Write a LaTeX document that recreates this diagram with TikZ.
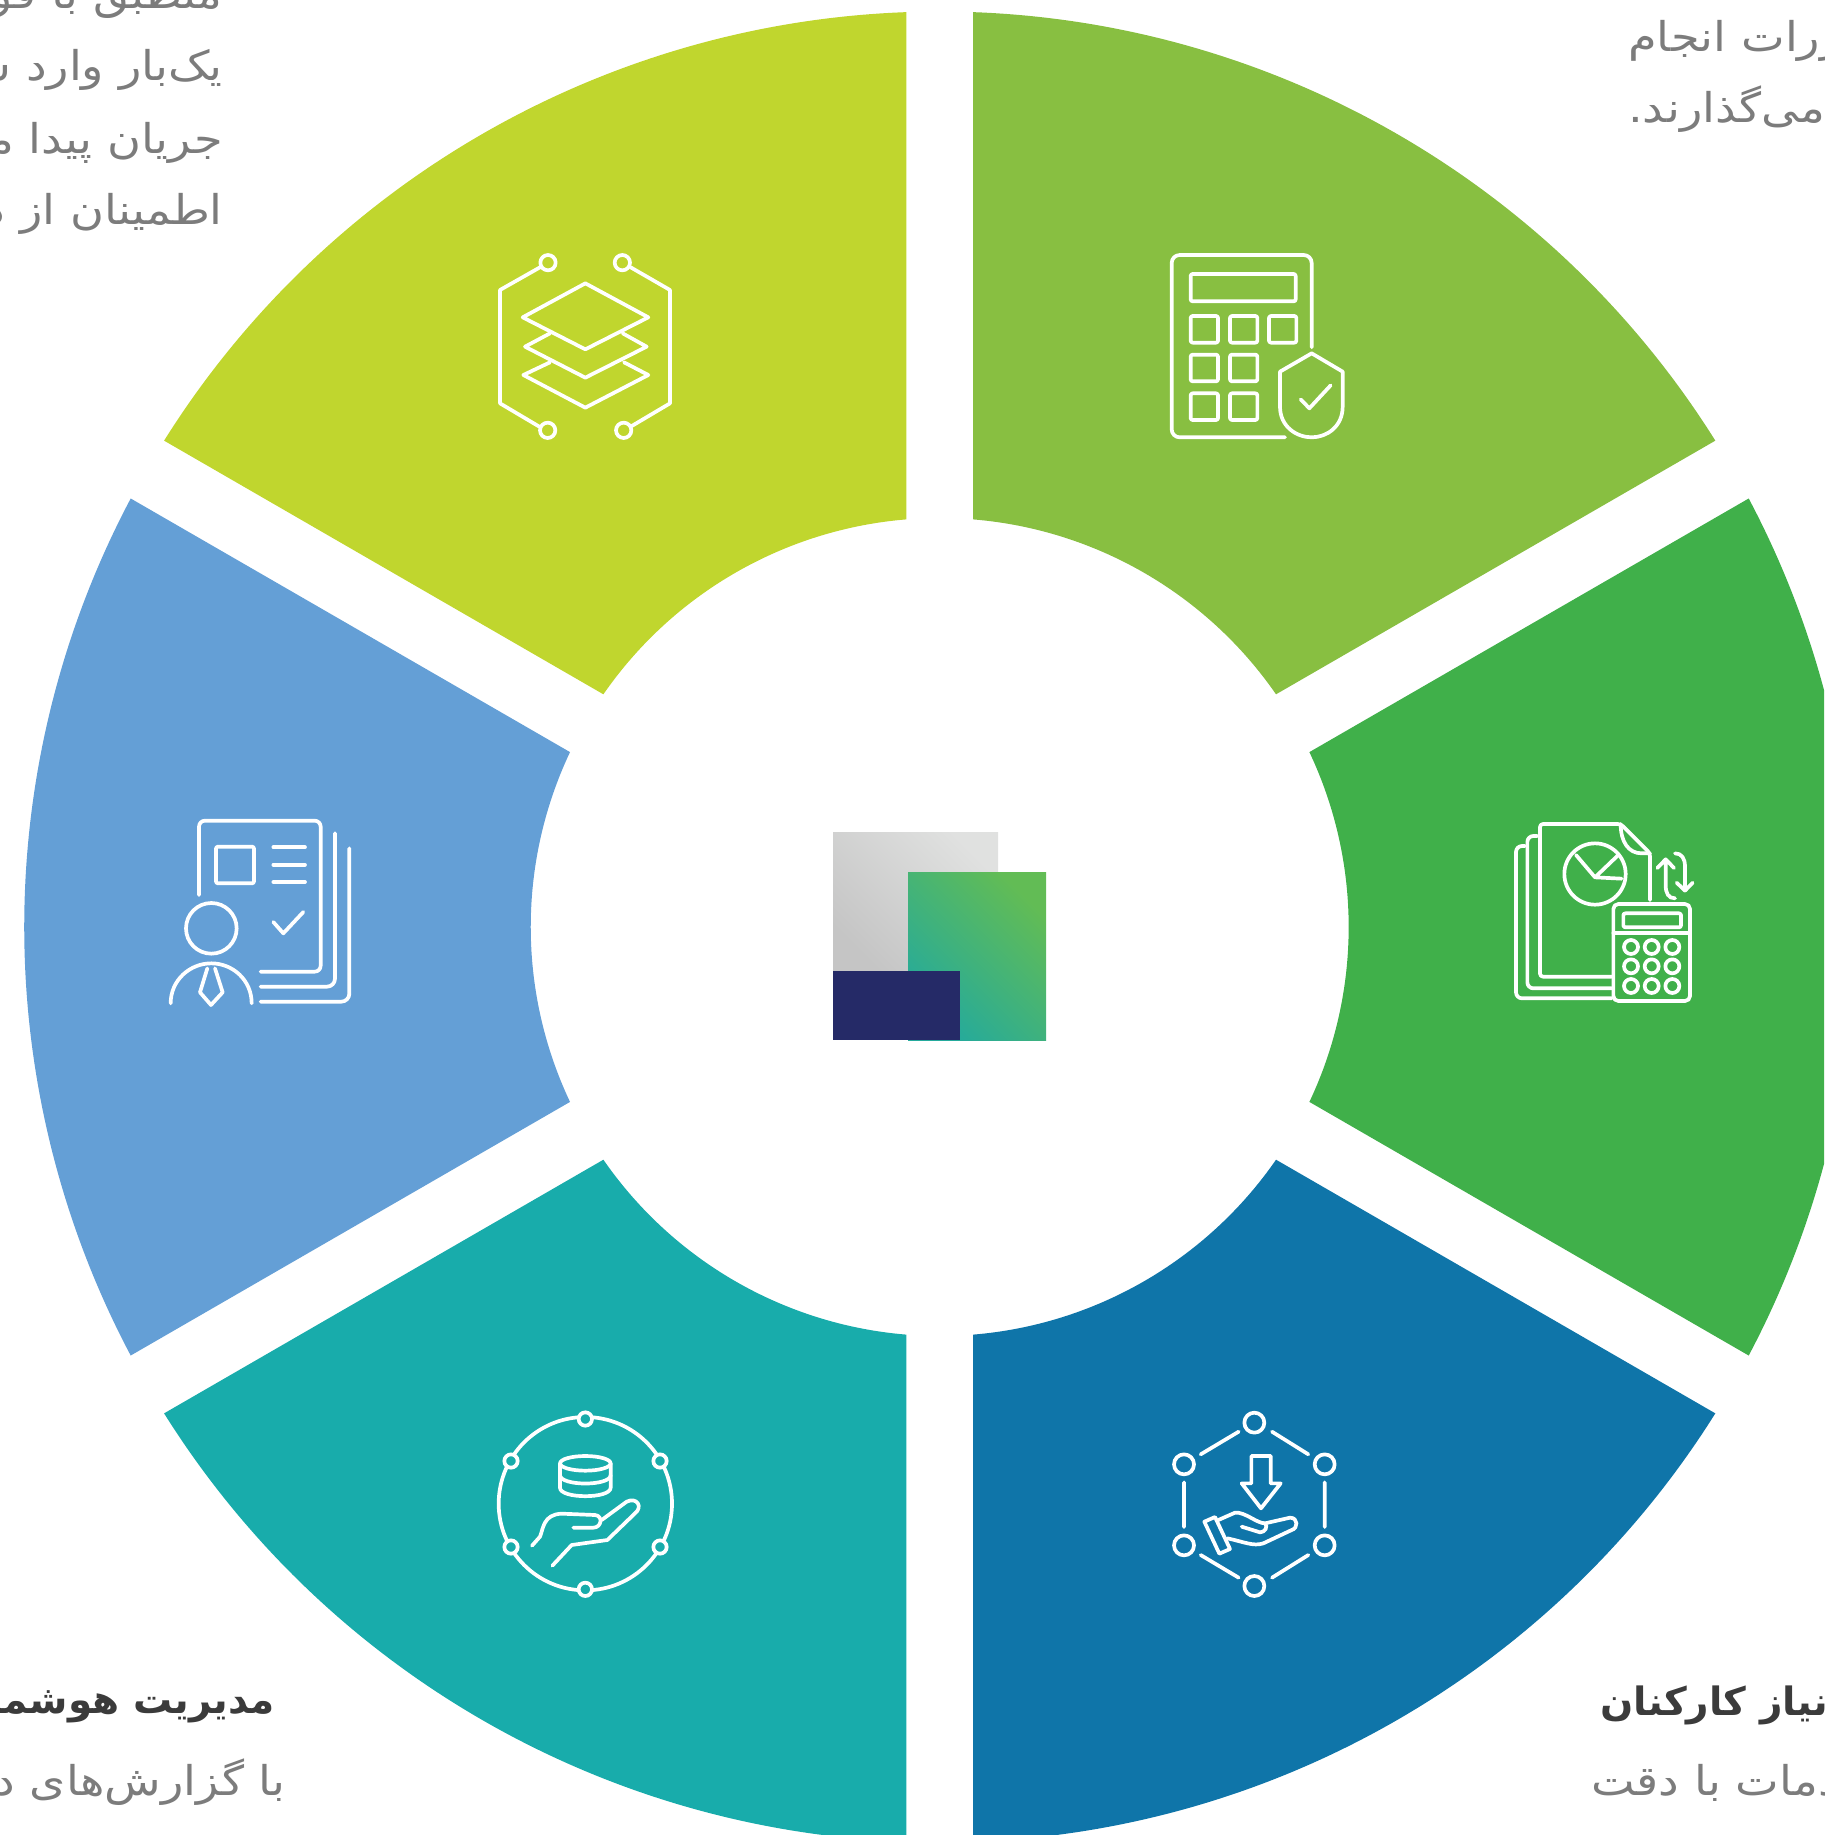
\documentclass[tikz,border=0pt]{standalone}
\usepackage{fontspec}
\TeXXeTstate=1
\newfontfamily\fafont[Script=Arabic,FakeStretch=1.13]{DejaVu Sans}
\newfontfamily\fabold[Script=Arabic]{DejaVu Sans Bold}
\definecolor{sTR}{HTML}{88BF41}
\definecolor{sR}{HTML}{40B04A}
\definecolor{sBR}{HTML}{0F75A9}
\definecolor{sBL}{HTML}{18ACAB}
\definecolor{sL}{HTML}{649FD6}
\definecolor{sTL}{HTML}{C0D62E}
\definecolor{txtbody}{HTML}{7C7C7C}
\definecolor{txthead}{HTML}{3B3B3B}
\definecolor{logoNavy}{HTML}{252A67}
\definecolor{gA}{HTML}{62BC55}
\definecolor{gB}{HTML}{3FB27B}
\definecolor{gC}{HTML}{24AA9C}
\definecolor{yA}{HTML}{E0E1E0}
\definecolor{yB}{HTML}{D2D3D2}
\definecolor{yC}{HTML}{C5C5C5}
\tikzset{
  body/.style={text=txtbody,inner sep=0pt,font=\fontsize{41}{41}\selectfont\fafont},
  head/.style={text=txthead,inner sep=0pt,font=\fontsize{39}{39}\selectfont\fabold},
  ico/.style={draw=white,line width=3.7pt,line join=round,line cap=round,fill=none},
  iconscope/.style={x=0.33333pt,y=-0.33333pt}
}
\newcommand{\sector}[2]{%
  \fill[#2] (#1-27.91:915.5pt) arc[start angle=#1-27.91,end angle=#1+27.91,radius=915.5pt]
    -- (#1+25.32:409pt) arc[start angle=#1+25.32,end angle=#1-25.32,radius=409pt] -- cycle;}
\begin{document}
\begin{tikzpicture}[x=1pt,y=1pt]
\useasboundingbox (0,0) rectangle (1824,-1835);
\clip (0,0) rectangle (1824,-1835);
\begin{scope}[shift={(939.7pt,-927pt)}]
  \sector{60}{sTR}
  \sector{0}{sR}
  \sector{-60}{sBR}
  \sector{-120}{sBL}
  \sector{180}{sL}
  \sector{120}{sTL}
\end{scope}
% logo
\shade[top color=yA,middle color=yB,bottom color=yC,shading angle=-45] (833,-832) rectangle (998,-971);
\shade[top color=gA,middle color=gB,bottom color=gC,shading angle=-45] (908,-872) rectangle (1046,-1040);
\fill[logoNavy] (833,-971) rectangle (960,-1040);
% texts
\node[body,anchor=base east] (t1) at (223,-9) {\beginR منطبق با قوانین\endR};
\node[body,anchor=base east] (t2) at (223,-81) {\beginR یک‌بار وارد سیستم\endR};
\node[body,anchor=base east] (t3) at (223,-154) {\beginR جریان پیدا می‌کند\endR};
\node[body,anchor=base east] (t4) at (223,-225) {\beginR اطمینان از درستی\endR};
\node[body,anchor=base west] (t5) at (1628,-52) {\beginR مقررات انجام\endR};
\node[body,anchor=base west] (t6) at (1628,-123) {\beginR می‌گذارند.\endR};
\node[head,anchor=base east] (t7) at (275,-1713) {\beginR مدیریت هوشمند\endR};
\node[body,anchor=base east] (t8) at (286,-1795) {\beginR با گزارش‌های دقیق\endR};
\node[head,anchor=base west] (t9) at (1600,-1715) {\beginR نیاز کارکنان\endR};
\node[body,anchor=base west] (t10) at (1591,-1795) {\beginR خدمات با دقت\endR};
% icon top-left
\begin{scope}[shift={(480pt,-230pt)},iconscope]
  \draw[ico] (204,98) circle[radius=23] (427,98) circle[radius=23] (203,601) circle[radius=23] (431,601) circle[radius=23];
  \draw[ico] (180,112)--(60,180)--(60,520)--(178,590);
  \draw[ico] (452,112)--(570,180)--(570,520)--(452,590);
  \draw[ico] (316,160)--(505,262)--(316,358)--(128,262)--cycle;
  \draw[ico] (210,310)--(135,350)--(316,443)--(500,350)--(428,310);
  \draw[ico] (210,397)--(130,435)--(316,533)--(505,435)--(432,397);
\end{scope}
% icon top-right
\begin{scope}[shift={(1150pt,-230pt)},iconscope]
  \draw[ico,rounded corners=8pt] (485,352)--(485,75)--(65,75)--(65,622)--(405,622);
  \draw[ico,rounded corners=2pt] (122,132) rectangle (437,214);
  \foreach \a/\b in {122/258,240/258,357/258,122/374,240/374,122/490,240/490}
    \draw[ico,rounded corners=2pt] (\a,\b) rectangle ++(82,80);
  \draw[ico] (485,370)--(390,425)--(390,530) .. controls (390,590) and (440,622) .. (485,622) .. controls (530,622) and (578,590) .. (578,530) -- (578,425) -- cycle;
  \draw[ico] (452,508)--(478,535)--(542,466);
\end{scope}
% icon right
\begin{scope}[shift={(1500pt,-800pt)},iconscope]
  \draw[ico,rounded corners=3pt] (450,300)--(450,160)--(362,72)--(120,72)--(120,530)--(335,530);
  \draw[ico] (362,72) .. controls (362,125) and (385,160) .. (425,160) -- (450,160);
  \draw[ico,rounded corners=6pt] (112,108)--(82,108)--(82,565)--(335,565);
  \draw[ico,rounded corners=6pt] (75,138)--(48,138)--(48,595)--(335,595);
  \draw[ico] (285,222) circle[radius=92];
  \draw[ico] (228,165)--(285,232)--(355,165) (285,232)--(365,236);
  \draw[ico] (472,204)--(497,178)--(522,204) (497,178)--(497,255) .. controls (497,280) and (505,295) .. (525,295);
  \draw[ico] (525,160) .. controls (545,160) and (555,175) .. (555,200) -- (555,272) (530,248)--(555,272)--(578,248);
  \draw[ico,rounded corners=5pt] (340,312) rectangle (570,603);
  \draw[ico] (340,400)--(570,400);
  \draw[ico,rounded corners=2pt] (370,340) rectangle (543,382);
  \foreach \a in {393,455,517} \foreach \b in {441,499,558}
    \draw[ico] (\a,\b) circle[radius=21];
\end{scope}
% icon left
\begin{scope}[shift={(150pt,-800pt)},iconscope]
  \draw[ico,rounded corners=6pt] (147,285)--(147,62)--(512,62)--(512,515)--(332,515);
  \draw[ico,rounded corners=2pt] (198,140) rectangle (312,250);
  \draw[ico] (370,142)--(465,142) (370,194)--(465,194) (370,246)--(465,246);
  \draw[ico] (370,366)--(400,400)--(460,336);
  \draw[ico,rounded corners=8pt] (555,100)--(555,560)--(332,560);
  \draw[ico,rounded corners=8pt] (598,145)--(598,605)--(332,605);
  \draw[ico] (184,385) circle[radius=76];
  \draw[ico] (62,610) .. controls (62,540) and (120,490) .. (184,490) .. controls (248,490) and (305,540) .. (305,610);
  \draw[ico] (172,505)--(150,577)--(183,615)--(218,577)--(195,505);
\end{scope}
% icon bottom-left
\begin{scope}[shift={(480pt,-1395pt)},iconscope]
  \draw[ico] (316,326) circle[radius=260];
  \foreach \a/\b in {316/72,316/583,93/198,93/456,540/198,540/456}
    \draw[draw=white,line width=3.7pt,fill=sBL] (\a,\b) circle[radius=20];
  \draw[ico] (316,205) ellipse[x radius=76,y radius=22];
  \draw[ico] (240,205)--(240,278) .. controls (240,312) and (392,312) .. (392,278) -- (392,205);
  \draw[ico] (240,240) .. controls (240,274) and (392,274) .. (392,240);
  \draw[ico] (156,452)--(180,425) .. controls (190,400) and (190,358) .. (245,356) -- (345,360) .. controls (370,362) and (365,398) .. (340,398) -- (280,398);
  \draw[ico] (365,375)--(440,320) .. controls (470,305) and (490,335) .. (465,355) -- (382,435) -- (275,450) -- (217,512);
\end{scope}
% icon bottom-right
\begin{scope}[shift={(1150pt,-1395pt)},iconscope]
  \foreach \a/\b in {313/83,313/573,102/208,102/451,524/208,524/451}
    \draw[ico] (\a,\b) circle[radius=30];
  \draw[ico] (152,178)--(266,110) (366,110)--(475,178) (102,262)--(102,396) (524,262)--(524,396) (152,480)--(266,548) (366,548)--(475,480);
  \draw[ico] (304,183)--(362,183)--(362,265)--(392,265)--(333,340)--(275,265)--(304,265)--cycle;
  \draw[ico] (163,380)--(195,366)--(240,462)--(208,476)--cycle;
  \draw[ico] (205,375)--(255,353) .. controls (285,350) and (320,385) .. (345,385) -- (420,368) .. controls (445,368) and (445,400) .. (425,405) -- (340,445) .. controls (310,455) and (280,440) .. (232,430);
  \draw[ico] (275,395)--(330,412) .. controls (345,412) and (355,395) .. (345,385);
\end{scope}
\end{tikzpicture}
\end{document}
